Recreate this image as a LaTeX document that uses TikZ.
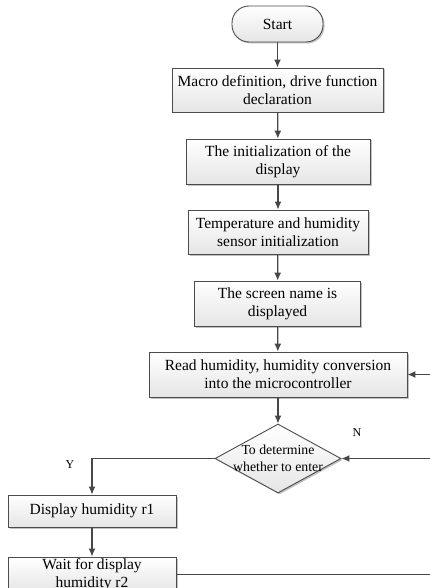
\documentclass[tikz,border=0pt]{standalone}
\usepackage{fontspec}
\setmainfont{Liberation Serif}
\usetikzlibrary{arrows.meta}
\usetikzlibrary{shapes.geometric}
\usetikzlibrary{shadows}

\begin{document}
\begin{tikzpicture}[
		x=1pt,y=-1pt,
		box/.style={draw=black!70,line width=0.9pt,top color=white,bottom color=black!10,
			drop shadow={shadow xshift=1.5pt,shadow yshift=-1.5pt,fill=black!40,opacity=0.6},
			align=center,inner sep=0pt,font=\fontsize{15.5}{18}\selectfont},
		term/.style={box,rounded corners=17pt},
		test/.style={box,diamond,font=\fontsize{13.8}{17}\selectfont},
		yn/.style={font=\fontsize{12}{14}\selectfont},
		flow/.style={draw=black!72,line width=1.2pt},
		>={Latex[length=8pt,width=7pt]}]
	%% frame
	\path[use as bounding box,clip] (0,0) rectangle (430,588);
	%% main column
	\node[term,minimum width=91,minimum height=36] (start) at (277.5,24) {Start};
	\node[box,minimum width=211,minimum height=44] (macro) at (277.5,90) {Macro definition, drive function\\declaration};
	\node[box,minimum width=184,minimum height=45] (disp) at (278,161.5) {The initialization of the\\display};
	\node[box,minimum width=180,minimum height=44] (sensor) at (278,232) {Temperature and humidity\\sensor initialization};
	\node[box,minimum width=166,minimum height=45] (name) at (277.5,303.5) {The screen name is\\displayed};
	\node[box,minimum width=258,minimum height=45] (read) at (278,374.5) {Read humidity, humidity conversion\\into the microcontroller};
	\node[test,minimum width=126,minimum height=69,
		label={[align=center,font=\fontsize{13.8}{17}\selectfont]center:To determine\\whether to enter}] (enter) at (278,458.5) {};
	%% left column
	\node[box,minimum width=168,minimum height=32] (show) at (92,511) {Display humidity r1};
	\node[box,minimum width=168,minimum height=35] (wait) at (92,574.5) {Wait for display\\humidity r2};
	%% branch labels
	\node[yn] (yes) at (70,465) {Y};
	\node[yn] (no) at (357,433) {N};
	%% loose ends at the right border
	\coordinate (backr) at (430,374.5);
	\coordinate (backn) at (430,458.5);
	\coordinate (backw) at (430,574.5);
	%% connectors
	\draw[flow,->] (start) -- (macro);
	\draw[flow,->] (macro) -- (disp);
	\draw[flow,->] (disp) -- (sensor);
	\draw[flow,->] (sensor) -- (name);
	\draw[flow,->] (name) -- (read);
	\draw[flow,->] (read) -- (enter);
	\draw[flow,->] (enter.west) -| (show.north);
	\draw[flow,->] (show) -- (wait);
	\draw[flow,->] (backr) -- (read.east);
	\draw[flow,->] (backn) -- (enter.east);
	\draw[flow] (wait.east) -- (backw);
\end{tikzpicture}
\end{document}
